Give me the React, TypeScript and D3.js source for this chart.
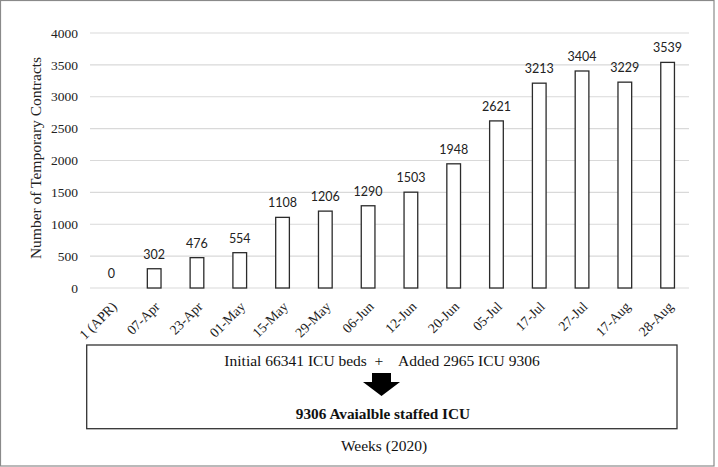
import React from "react";
import * as d3 from "d3";

const categories = ["1 (APR)", "07-Apr", "23-Apr", "01-May", "15-May", "29-May", "06-Jun", "12-Jun", "20-Jun", "05-Jul", "17-Jul", "27-Jul", "17-Aug", "28-Aug"];
const values = [0, 302, 476, 554, 1108, 1206, 1290, 1503, 1948, 2621, 3213, 3404, 3229, 3539];
const yTicks = [0, 500, 1000, 1500, 2000, 2500, 3000, 3500, 4000];
const yTitle = "Number of Temporary Contracts";
const boxLine1 = "Initial 66341 ICU beds  +    Added 2965 ICU 9306";
const boxLine2 = "9306 Avaialble staffed ICU";
const xTitle = "Weeks (2020)";

const W = 718, H = 467;
const serif = "'Liberation Serif', 'Times New Roman', serif";
const sans = "Lato, 'Liberation Sans', sans-serif";

export default function App() {
  const x = d3.scaleBand<string>().domain(categories).range([90, 689]).paddingInner(0.68).paddingOuter(0.34);
  const y = d3.scaleLinear().domain([0, 4000]).range([288, 33]);
  const bw = x.bandwidth();
  const arrowCx = 381.5;
  const arrowPath = d3.path();
  arrowPath.moveTo(arrowCx - 9.5, 373);
  arrowPath.lineTo(arrowCx + 9.5, 373);
  arrowPath.lineTo(arrowCx + 9.5, 382);
  arrowPath.lineTo(arrowCx + 18.5, 382);
  arrowPath.lineTo(arrowCx, 396);
  arrowPath.lineTo(arrowCx - 18.5, 382);
  arrowPath.lineTo(arrowCx - 9.5, 382);
  arrowPath.closePath();
  return (
    <svg width={W} height={H} style={{ position: "absolute", left: 0, top: 0, background: "#fff" }}>
      <rect x={0.5} y={0.5} width={713.5} height={465.5} fill="#fff" stroke="#8a8a8a" strokeWidth={1.2} />
      {yTicks.map((t) => (
        <g key={t}>
          <line x1={90} x2={689} y1={y(t)} y2={y(t)} stroke="#d9d9d9" strokeWidth={1.2} />
          <text x={78} y={y(t)} dy="0.35em" textAnchor="end" fontFamily={serif} fontSize={13.5} fill="#222">{t}</text>
        </g>
      ))}
      {categories.map((c, i) => {
        const bx = x(c)!;
        const cx = bx + bw / 2;
        return (
          <g key={c}>
            {values[i] > 0 && (
              <rect x={bx} y={y(values[i])} width={bw} height={y(0) - y(values[i])} fill="#fff" stroke="#2b2b2b" strokeWidth={1.3} />
            )}
            <text x={cx} y={y(values[i]) - 10} textAnchor="middle" fontFamily={sans} fontSize={12.5} fill="#222">{values[i]}</text>
            <text transform={`translate(${cx + 3},${304}) rotate(-45)`} textAnchor="end" dy="0.35em" fontFamily={serif} fontSize={13.8} fill="#222">{c}</text>
          </g>
        );
      })}
      <text transform={`translate(41,${158}) rotate(-90)`} textAnchor="middle" fontFamily={serif} fontSize={15.5} fill="#222">{yTitle}</text>
      <rect x={86.7} y={345} width={590.3} height={83.7} fill="none" stroke="#333" strokeWidth={1.3} />
      <text x={382} y={365.5} textAnchor="middle" fontFamily={serif} fontSize={15.5} fill="#111" style={{ whiteSpace: "pre" }}>{boxLine1}</text>
      <path d={arrowPath.toString()} fill="#000" />
      <text x={383} y={419} textAnchor="middle" fontFamily={serif} fontWeight="bold" fontSize={15.3} fill="#111">{boxLine2}</text>
      <text x={384} y={450.5} textAnchor="middle" fontFamily={serif} fontSize={15.5} fill="#111">{xTitle}</text>
    </svg>
  );
}
